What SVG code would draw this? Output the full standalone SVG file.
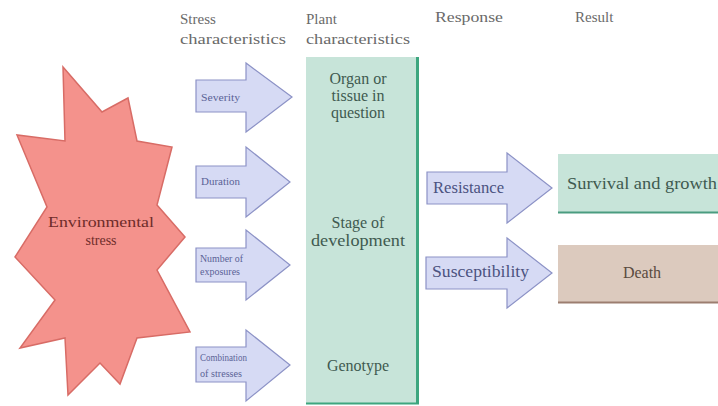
<svg xmlns="http://www.w3.org/2000/svg" width="718" height="406" viewBox="0 0 718 406">
<style>
text{font-family:"Liberation Serif","Times New Roman","DejaVu Serif",serif}
.hdr{font-size:15px;fill:#6a6a6a}
.arr{fill:#d6daf4;stroke:#8c92c6;stroke-width:1.2}
.alab{font-size:10.5px;fill:#5a6296}
.node{font-size:16px;fill:#3f5a50;text-anchor:middle}
.big{font-size:16px;fill:#4b5280}
.env{font-size:14px;fill:#6e2c2a;text-anchor:middle}
</style>
<rect width="718" height="406" fill="#ffffff"/>
<g id="headers">
<text class="hdr" x="180" y="24">Stress</text>
<text class="hdr" x="180" y="44" textLength="106" lengthAdjust="spacingAndGlyphs">characteristics</text>
<text class="hdr" x="306" y="24">Plant</text>
<text class="hdr" x="306" y="44" textLength="104" lengthAdjust="spacingAndGlyphs">characteristics</text>
<text class="hdr" x="435" y="22" textLength="68" lengthAdjust="spacingAndGlyphs">Response</text>
<text class="hdr" x="575" y="22">Result</text>
</g>
<g id="environmental-stress">
<polygon points="63,67 102,112 128,98 137,141 172,147 157,205 185,237 157,270 190,332 137,338 120,384 100,363 68,395 65,338 20,348 55,300 15,257 47,207 17,135 65,141" fill="#f4928c" stroke="#d86c66" stroke-width="1.5" stroke-linejoin="miter"/>
<text class="env" x="101" y="227" textLength="106" lengthAdjust="spacingAndGlyphs">Environmental</text>
<text class="env" x="101" y="245">stress</text>
</g>
<g id="connectors">
<g id="arrow-severity">
<polygon class="arr" points="196,80 246,80 246,63 292,97 246,132 246,112 196,112"/>
<text class="alab" x="201" y="101" textLength="39" lengthAdjust="spacingAndGlyphs">Severity</text>
</g>
<g id="arrow-duration">
<polygon class="arr" points="196,166 246,166 246,147 290,182 246,217 246,198 196,198"/>
<text class="alab" x="201" y="185" textLength="39" lengthAdjust="spacingAndGlyphs">Duration</text>
</g>
<g id="arrow-exposures">
<polygon class="arr" points="196,248 246,248 246,230 290,265 246,300 246,282 196,282"/>
<text class="alab" x="200" y="262" textLength="43" lengthAdjust="spacingAndGlyphs">Number of</text>
<text class="alab" x="200" y="275" textLength="40" lengthAdjust="spacingAndGlyphs">exposures</text>
</g>
<g id="arrow-combination">
<polygon class="arr" points="196,347 246,347 246,330 290,365 246,401 246,382 196,382"/>
<text class="alab" x="200" y="361" textLength="47" lengthAdjust="spacingAndGlyphs">Combination</text>
<text class="alab" x="200" y="377" textLength="42" lengthAdjust="spacingAndGlyphs">of stresses</text>
</g>
<g id="arrow-resistance">
<polygon class="arr" points="427,172 507,172 507,153 552,188 507,223 507,204 427,204"/>
<text class="big" x="433" y="193" textLength="71" lengthAdjust="spacingAndGlyphs">Resistance</text>
</g>
<g id="arrow-susceptibility">
<polygon class="arr" points="426,257 507,257 507,238 552,273 507,308 507,289 426,289"/>
<text class="big" x="432" y="277" textLength="97" lengthAdjust="spacingAndGlyphs">Susceptibility</text>
</g>
</g>
<g id="plant-characteristics">
<rect x="306" y="57" width="111" height="347" fill="#c7e4d9"/>
<line x1="417.5" y1="57" x2="417.5" y2="404" stroke="#3da67f" stroke-width="3"/>
<line x1="306" y1="403.5" x2="419" y2="403.5" stroke="#3da67f" stroke-width="2"/>
<text class="node" x="358" y="84">Organ or</text>
<text class="node" x="358" y="101">tissue in</text>
<text class="node" x="358" y="118">question</text>
<text class="node" x="358" y="228">Stage of</text>
<text class="node" x="358" y="246" textLength="94" lengthAdjust="spacingAndGlyphs">development</text>
<text class="node" x="358" y="371">Genotype</text>
</g>
<g id="survival-and-growth">
<rect x="558" y="154" width="160" height="59" fill="#c7e4d9"/>
<line x1="558" y1="212.5" x2="718" y2="212.5" stroke="#4a9c80" stroke-width="2"/>
<text x="567" y="189" font-size="16" fill="#3f5a50" textLength="150" lengthAdjust="spacingAndGlyphs">Survival and growth</text>
</g>
<g id="death">
<rect x="558" y="245" width="160" height="58" fill="#dccabe"/>
<line x1="558" y1="302.5" x2="718" y2="302.5" stroke="#9c7e70" stroke-width="2"/>
<text x="642" y="278" text-anchor="middle" font-size="16" fill="#5a4a40">Death</text>
</g>
</svg>
